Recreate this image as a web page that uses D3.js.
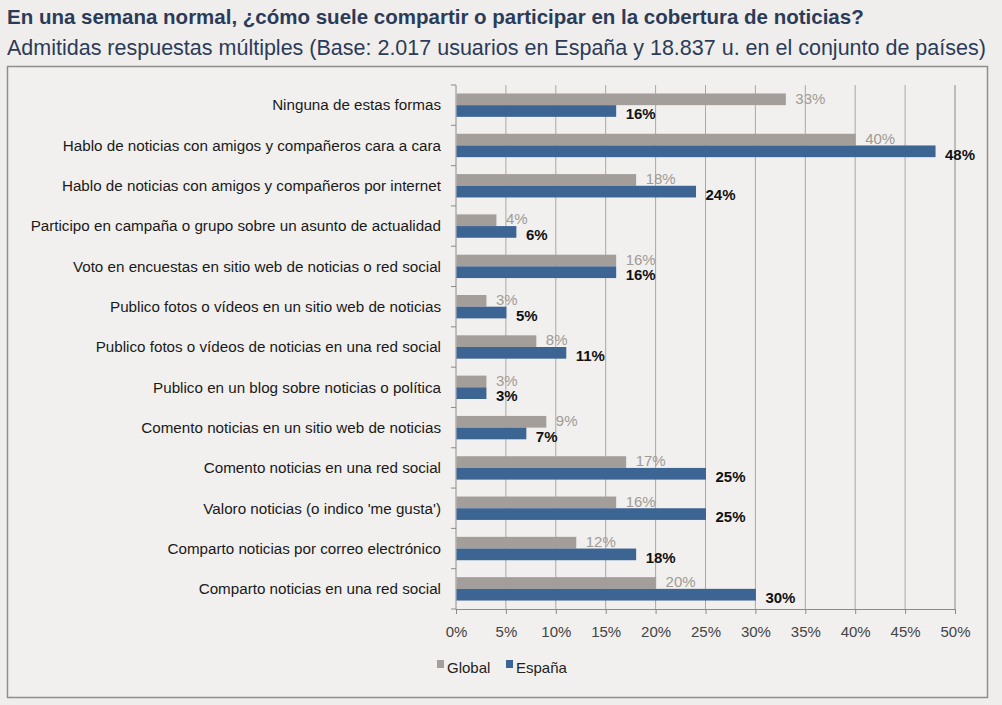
<!DOCTYPE html>
<html><head><meta charset="utf-8">
<script src="https://cdn.jsdelivr.net/npm/d3@7"></script>
<style>
html,body{margin:0;padding:0;background:#efeeec;}
svg{display:block;}
text{font-family:"Liberation Sans",Arial,sans-serif;}
</style></head>
<body>
<svg id="chart" width="1002" height="705"></svg>
<script>
const titleText = "En una semana normal, ¿cómo suele compartir o participar en la cobertura de noticias?";
const subtitleText = "Admitidas respuestas múltiples (Base: 2.017 usuarios en España y 18.837 u. en el conjunto de países)";
const categories = [
  "Ninguna de estas formas",
  "Hablo de noticias con amigos y compañeros cara a cara",
  "Hablo de noticias con amigos y compañeros por internet",
  "Participo en campaña o grupo sobre un asunto de actualidad",
  "Voto en encuestas en sitio web de noticias o red social",
  "Publico fotos o vídeos en un sitio web de noticias",
  "Publico fotos o vídeos de noticias en una red social",
  "Publico en un blog sobre noticias o política",
  "Comento noticias en un sitio web de noticias",
  "Comento noticias en una red social",
  "Valoro noticias (o indico 'me gusta')",
  "Comparto noticias por correo electrónico",
  "Comparto noticias en una red social"
];
const seriesNames = ["Global", "España"];
const globalValues = [33, 40, 18, 4, 16, 3, 8, 3, 9, 17, 16, 12, 20];
const espanaValues = [16, 48, 24, 6, 16, 5, 11, 3, 7, 25, 25, 18, 30];
const xTicks = [0, 5, 10, 15, 20, 25, 30, 35, 40, 45, 50];
const colors = {"Global": "#a39e99", "España": "#3d6594"};
const labelColors = {"Global": "#a09b96", "España": "#111111"};

const svg = d3.select("#chart");
const plot = {left: 456, right: 955, top: 85, bottom: 609};

// frame
svg.append("rect").attr("x", 7.5).attr("y", 66.5).attr("width", 980).attr("height", 631)
  .attr("fill", "#f1f0ee").attr("stroke", "#8f8f8f").attr("stroke-width", 1.5);

// titles
svg.append("text").attr("x", 7).attr("y", 24).attr("fill", "#2b3b58")
  .attr("font-size", 20.5).attr("font-weight", "bold").text(titleText);
svg.append("text").attr("x", 7).attr("y", 55).attr("fill", "#2b3b58")
  .attr("font-size", 21.5).text(subtitleText);

const x = d3.scaleLinear().domain([0, 50]).range([plot.left, plot.right]);
const y = d3.scaleBand().domain(categories).range([plot.top, plot.bottom]).paddingInner(0.42).paddingOuter(0.21);
const ySub = d3.scaleBand().domain(seriesNames).range([0, y.bandwidth()]);

// gridlines
svg.append("g").selectAll("line").data(xTicks.slice(1)).join("line")
  .attr("x1", d => x(d)).attr("x2", d => x(d))
  .attr("y1", plot.top).attr("y2", plot.bottom)
  .attr("stroke", d => d === 50 ? "#8a8a8a" : "#a8a8a8").attr("stroke-width", 1);

// bottom axis
const xAxis = d3.axisBottom(x).tickValues(xTicks).tickFormat(d => d + "%").tickSize(5).tickPadding(12);
const gx = svg.append("g").attr("transform", `translate(0,${plot.bottom})`).call(xAxis);
gx.select(".domain").attr("stroke", "#8a8a8a");
gx.selectAll(".tick line").attr("stroke", "#8a8a8a");
gx.selectAll(".tick text").attr("font-size", 15).attr("fill", "#444").attr("font-family", "Liberation Sans, Arial, sans-serif");

// left axis (band boundaries ticks)
const boundaries = d3.range(categories.length + 1).map(i => plot.top + i * y.step());
svg.append("line").attr("x1", plot.left).attr("x2", plot.left).attr("y1", plot.top).attr("y2", plot.bottom).attr("stroke", "#8a8a8a");
svg.append("g").selectAll("line").data(boundaries).join("line")
  .attr("x1", plot.left - 5).attr("x2", plot.left).attr("y1", d => d).attr("y2", d => d).attr("stroke", "#8a8a8a");

// category labels
svg.append("g").selectAll("text").data(categories).join("text")
  .attr("x", plot.left - 15).attr("y", d => y(d) + y.bandwidth() / 2)
  .attr("dy", "0.35em").attr("text-anchor", "end")
  .attr("font-size", 15.2).attr("fill", "#1a1a1a").text(d => d);

const rows = categories.map((c, i) => ({c, "Global": globalValues[i], "España": espanaValues[i]}));
const groups = svg.append("g").selectAll("g").data(rows).join("g")
  .attr("transform", d => `translate(0,${y(d.c)})`);
groups.selectAll("rect").data(d => seriesNames.map(s => ({s, v: d[s]}))).join("rect")
  .attr("x", x(0) + 0.5).attr("y", d => ySub(d.s))
  .attr("width", d => x(d.v) - x(0)).attr("height", ySub.bandwidth())
  .attr("fill", d => colors[d.s]);
groups.selectAll("text").data(d => seriesNames.map(s => ({s, v: d[s]}))).join("text")
  .attr("x", d => x(d.v) + 10)
  .attr("y", d => ySub(d.s) + ySub.bandwidth() / 2 + (d.s === "Global" ? -1 : 3))
  .attr("dy", "0.35em")
  .attr("font-size", 15)
  .attr("font-weight", d => d.s === "España" ? "bold" : "normal")
  .attr("fill", d => labelColors[d.s])
  .text(d => d.v + "%");

// legend
const legend = svg.append("g").attr("transform", "translate(437,660)");
const li = legend.selectAll("g").data(seriesNames).join("g")
  .attr("transform", (d, i) => `translate(${i * 69},0)`);
li.append("rect").attr("width", 7).attr("height", 8).attr("fill", d => colors[d]);
li.append("text").attr("x", 10).attr("y", 13).attr("font-size", 15).attr("fill", "#222").text(d => d);
</script>
</body></html>
